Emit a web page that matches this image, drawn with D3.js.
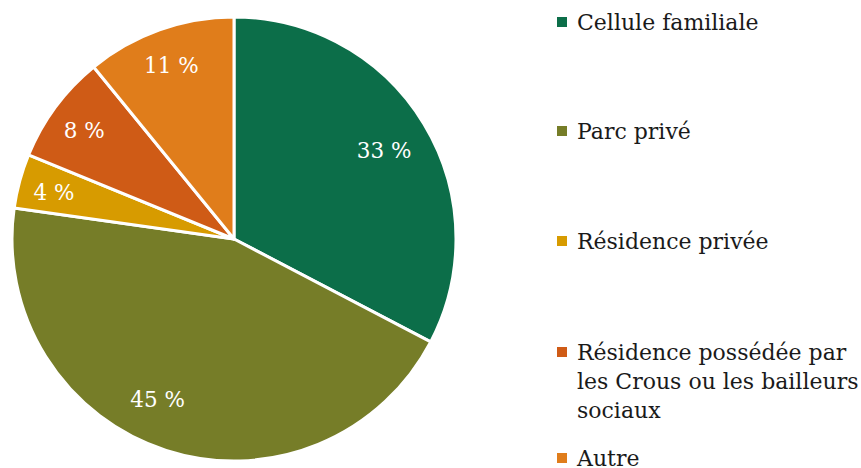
<!DOCTYPE html>
<html><head><meta charset="utf-8">
<script src="https://cdn.jsdelivr.net/npm/d3@7"></script>
<style>body{margin:0;background:#fff}svg{display:block}</style>
</head><body>
<script>
const categories = ["Cellule familiale", "Parc privé", "Résidence privée", "Résidence possédée par les Crous ou les bailleurs sociaux", "Autre"];
const legendLines = [["Cellule familiale"], ["Parc privé"], ["Résidence privée"], ["Résidence possédée par", "les Crous ou les bailleurs", "sociaux"], ["Autre"]];
const values = [33, 45, 4, 8, 11];
const labels = ["33 %", "45 %", "4 %", "8 %", "11 %"];
const colors = ["#0c6e49", "#767d28", "#d79b00", "#cf5b16", "#e07d1b"];

const W = 861, H = 468;
const font = "'DejaVu Serif', serif";
const svg = d3.select("body").append("svg").attr("width", W).attr("height", H);
const cx = 234, cy = 239, R = 222;
const pie = d3.pie().sort(null).value(d => d)(values);
const arc = d3.arc().innerRadius(0).outerRadius(R);
const g = svg.append("g").attr("transform", `translate(${cx},${cy})`);
g.selectAll("path").data(pie).join("path")
  .attr("d", arc).attr("fill", (d, i) => colors[i])
  .attr("stroke", "#fff").attr("stroke-width", 3).attr("stroke-linejoin", "round");
// label placement: small slices pushed outward, large ones rotated slightly like the original
const labelAngleShift = [0, 0.14, 0, 0, 0];
g.selectAll("text").data(pie).join("text")
  .attr("transform", (d, i) => {
    const lr = d.value < 12 ? R * 0.84 : R * 0.79;
    const a = (d.startAngle + d.endAngle) / 2 + labelAngleShift[i];
    return `translate(${lr * Math.sin(a)},${-lr * Math.cos(a)})`;
  })
  .attr("text-anchor", "middle").attr("dy", "0.45em")
  .attr("fill", "#fff").attr("font-family", font).attr("font-size", 21.5)
  .text((d, i) => labels[i]);

const legendY = [22, 131, 241, 352, 458];
const lg = svg.append("g");
legendLines.forEach((lines, i) => {
  lg.append("rect").attr("x", 557).attr("y", legendY[i] - 5).attr("width", 10).attr("height", 10).attr("fill", colors[i]);
  lines.forEach((t, j) => {
    lg.append("text").attr("x", 577).attr("y", legendY[i] + j * 29).attr("dy", "0.36em")
      .attr("fill", "#1a1a1a").attr("font-family", font).attr("font-size", 22).text(t);
  });
});
</script>
</body></html>
